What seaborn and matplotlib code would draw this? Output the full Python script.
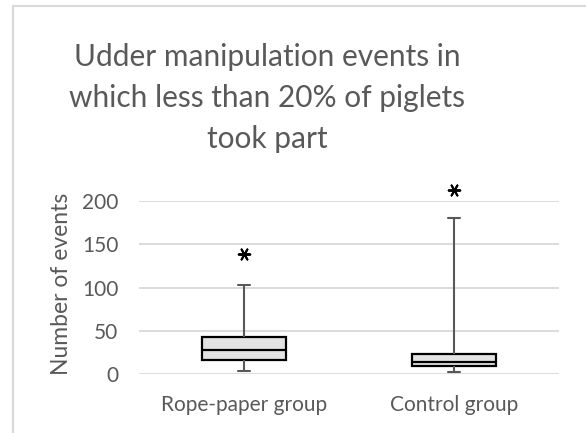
import numpy as np
import pandas as pd
import seaborn as sns
import matplotlib.pyplot as plt
from matplotlib.lines import Line2D

# five-number summaries (min, q1, median, q3, max)
groups = ['Rope-paper group', 'Control group']
rope = [3.8, 16.5, 28.4, 43.3, 102.5]
control = [3.0, 9.6, 14.2, 23.7, 179.7]
star_y = [138.6, 212.0]
yticks = [0, 50, 100, 150, 200]

sns.set_style('white')
plt.rcParams['font.family'] = ['Lato', 'DejaVu Sans']

df = pd.DataFrame({'group': [groups[0]] * len(rope) + [groups[1]] * len(control),
                   'events': rope + control})

fig = plt.figure(figsize=(5.86, 4.33), dpi=100)
ax = fig.add_axes([139 / 586, 1 - 374.3 / 433, 420 / 586, 173.6 / 433])

grey = '#595959'
sns.boxplot(data=df, x='group', y='events', order=groups, whis=(0, 100), width=0.4,
            color='#e3e3e3', linecolor='black', linewidth=1.6, ax=ax,
            capwidths=0.055,
            whiskerprops={'color': grey, 'linewidth': 1.5},
            capprops={'color': grey, 'linewidth': 1.5})

sns.scatterplot(x=groups, y=star_y, marker=(6, 2, 90), s=70, color='black',
                linewidth=1.4, ax=ax, clip_on=False, zorder=5)

ax.set_ylim(0, 200)
ax.set_xlim(-0.5, 1.5)
ax.set_yticks(yticks)
ax.yaxis.grid(True, color='#d9d9d9', linewidth=1.3)
ax.set_axisbelow(True)
for s in ax.spines.values():
    s.set_visible(False)
ax.tick_params(axis='both', length=0, labelsize=15, labelcolor=grey)
ax.tick_params(axis='y', pad=15)
ax.tick_params(axis='x', pad=15)
ax.set_xlabel('')
ax.set_ylabel('')

fig.text(62 / 586, 1 - 284 / 433, 'Number of events', rotation=90, ha='center', va='center',
         fontsize=16.5, color=grey)
fig.text(267 / 586, 1 - 98 / 433, 'Udder manipulation events in\nwhich less than 20% of piglets\ntook part',
         ha='center', va='center', fontsize=21.5, color=grey, linespacing=1.58)

# chart frame
fig.add_artist(Line2D([13 / 586, 13 / 586], [0, 1 - 6 / 433], transform=fig.transFigure,
                      color='#d9d9d9', linewidth=1.5))
fig.add_artist(Line2D([13 / 586, 1], [1 - 6 / 433, 1 - 6 / 433], transform=fig.transFigure,
                      color='#d9d9d9', linewidth=1.5))

fig.savefig('out.png', dpi=100)
